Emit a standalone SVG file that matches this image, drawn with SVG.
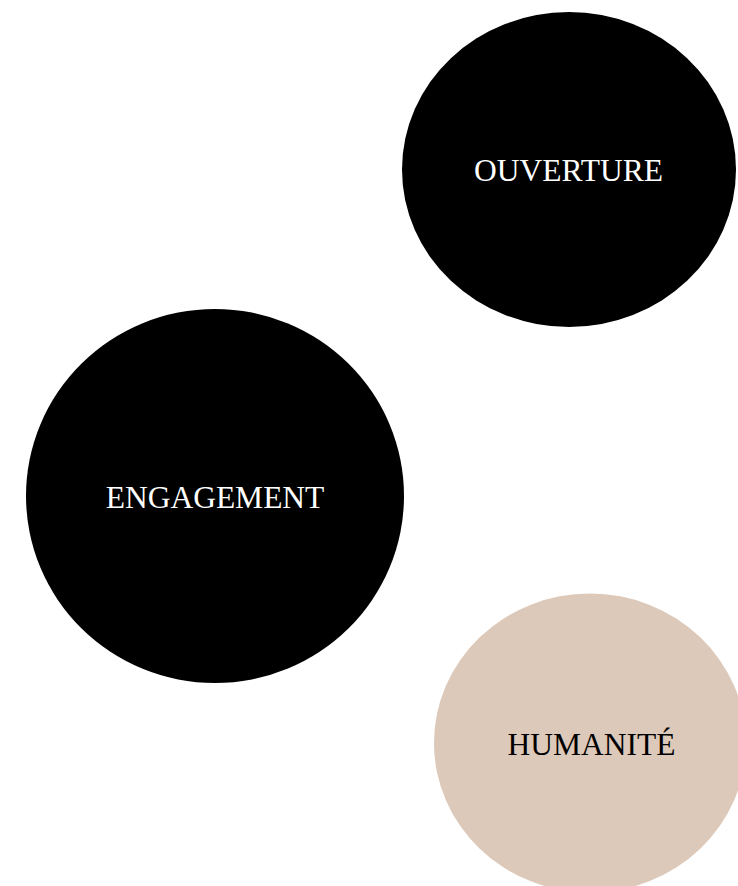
<svg xmlns="http://www.w3.org/2000/svg" width="738" height="886" viewBox="0 0 738 886">
<style>
.lbl{font-family:"Liberation Serif","Times New Roman",serif;font-size:31.5px;text-anchor:middle}
.dark{fill:#000}
.light{fill:#ddc9b9}
.w{fill:#fff}
.b{fill:#000}
</style>
<rect width="738" height="886" fill="#fff"/>
<g id="connectors"></g>
<g id="ouverture">
<ellipse class="dark" cx="569" cy="169.5" rx="167" ry="157.5"/>
<text class="lbl w" x="568.5" y="180.5">OUVERTURE</text>
</g>
<g id="engagement">
<ellipse class="dark" cx="215" cy="496" rx="189" ry="187"/>
<text class="lbl w" x="215" y="507.5">ENGAGEMENT</text>
</g>
<g id="humanite">
<ellipse class="light" cx="590" cy="743" rx="156" ry="149.5"/>
<text class="lbl b" x="591.5" y="754.5">HUMANITÉ</text>
</g>
</svg>
